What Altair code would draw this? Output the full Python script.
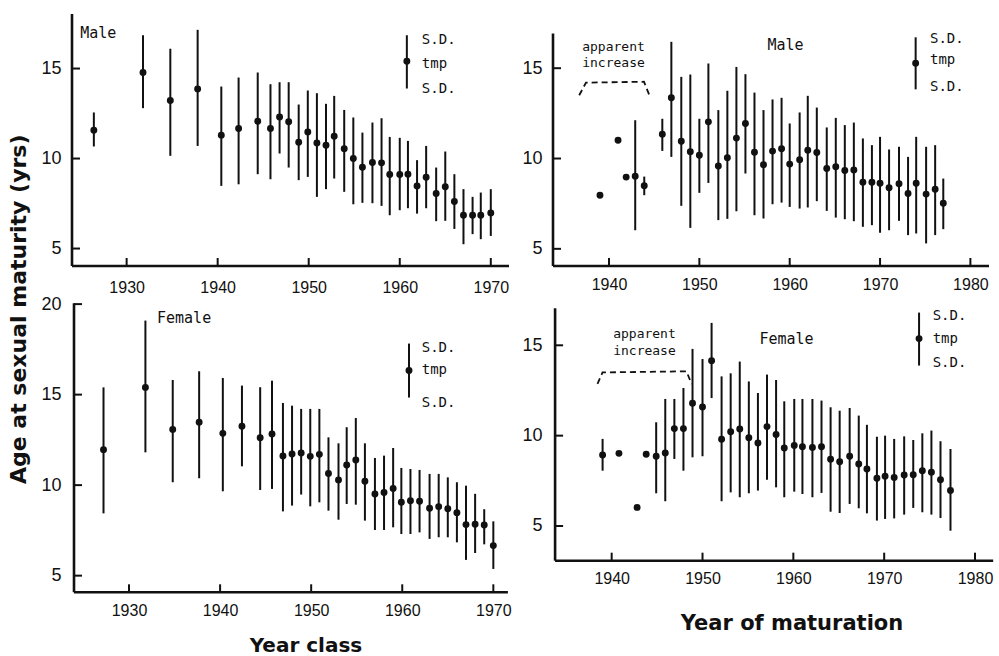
import altair as alt
import pandas as pd

# ---- Male, by year class ----
mc_year = [1926.4, 1931.8, 1934.8, 1937.8, 1940.4, 1942.3, 1944.4, 1945.8, 1946.8, 1947.8,
           1948.9, 1949.9, 1950.9, 1951.9, 1952.8, 1953.9, 1954.9, 1955.9, 1957.0, 1958.0,
           1958.9, 1960.0, 1960.9, 1961.9, 1962.9, 1964.0, 1965.0, 1966.0, 1967.0, 1968.0,
           1968.9, 1970.0]
mc_tmp = [11.57, 14.78, 13.22, 13.87, 11.3, 11.67, 12.07, 11.67, 12.31, 12.04,
          10.91, 11.48, 10.87, 10.74, 11.24, 10.54, 10.0, 9.52, 9.78, 9.76,
          9.11, 9.11, 9.13, 8.48, 8.96, 8.06, 8.43, 7.61, 6.85, 6.85,
          6.85, 6.98]
mc_hi = [12.56, 16.85, 16.1, 17.15, 14.0, 14.5, 14.78, 14.13, 14.24, 14.24,
         13.0, 13.78, 13.63, 13.04, 13.48, 12.7, 12.28, 11.44, 12.0, 12.24,
         11.2, 11.15, 10.98, 9.91, 10.7, 9.5, 10.39, 9.13, 8.3, 7.87,
         8.11, 8.3]
mc_lo = [10.67, 12.8, 10.15, 10.7, 8.48, 8.57, 9.13, 8.85, 10.28, 9.5,
         8.8, 8.98, 7.87, 8.3, 8.89, 8.15, 7.46, 7.54, 7.52, 7.37,
         6.85, 7.13, 7.24, 6.94, 7.24, 6.52, 6.54, 6.09, 5.24, 5.8,
         5.52, 5.7]

# ---- Male, by year of maturation ----
mm_year = [1939.0, 1941.0, 1941.9, 1942.9, 1943.9, 1945.9, 1946.9, 1948.0, 1949.0, 1950.0,
           1951.0, 1952.1, 1953.1, 1954.1, 1955.1, 1956.1, 1957.1, 1958.1, 1959.1, 1960.0,
           1961.1, 1962.0, 1963.0, 1964.1, 1965.1, 1966.1, 1967.1, 1968.1, 1969.1, 1970.0,
           1971.0, 1972.1, 1973.1, 1974.0, 1975.1, 1976.1, 1977.0]
mm_tmp = [7.97, 11.01, 8.97, 9.02, 8.49, 11.35, 13.36, 10.96, 10.37, 10.18,
          12.03, 9.59, 10.04, 11.13, 11.94, 10.35, 9.65, 10.41, 10.54, 9.69,
          9.93, 10.46, 10.33, 9.45, 9.54, 9.34, 9.37, 8.69, 8.69, 8.63,
          8.38, 8.6, 8.06, 8.63, 8.03, 8.3, 7.53]
mm_hi = [None, None, None, 12.12, 9.0, 12.2, 16.46, 14.52, 14.65, 12.2,
         15.26, 12.68, 13.75, 15.07, 14.67, 13.65, 12.68, 13.27, 13.36, 11.94,
         12.55, 13.47, 12.82, 11.72, 12.25, 11.85, 11.99, 11.11, 10.74, 11.2,
         10.5, 10.65, 10.09, 11.2, 10.65, 10.74, 8.89]
mm_lo = [None, None, None, 6.03, 7.97, 10.42, 10.09, 7.38, 6.16, 8.1,
         8.65, 6.59, 6.66, 7.08, 9.17, 6.86, 6.68, 7.47, 7.56, 7.32,
         7.23, 7.29, 7.64, 7.1, 6.73, 6.64, 6.53, 6.22, 6.31, 5.89,
         6.03, 6.55, 5.76, 5.85, 5.3, 5.76, 6.09]

# ---- Female, by year class ----
fc_year = [1927.2, 1931.8, 1934.8, 1937.7, 1940.3, 1942.4, 1944.4, 1945.7, 1946.9, 1947.9,
           1948.9, 1949.9, 1950.9, 1951.9, 1953.0, 1953.9, 1954.9, 1955.9, 1957.0, 1958.0,
           1959.0, 1959.9, 1960.9, 1961.9, 1963.0, 1964.0, 1965.0, 1966.0, 1967.0, 1968.0,
           1969.0, 1970.0]
fc_tmp = [11.96, 15.4, 13.08, 13.47, 12.86, 13.25, 12.62, 12.83, 11.61, 11.72,
          11.78, 11.59, 11.7, 10.64, 10.29, 11.11, 11.39, 10.21, 9.51, 9.59,
          9.82, 9.05, 9.14, 9.11, 8.72, 8.81, 8.7, 8.48, 7.82, 7.84,
          7.8, 6.66]
fc_hi = [15.4, 19.09, 15.81, 16.29, 15.92, 15.5, 15.41, 15.77, 14.54, 14.39,
         14.21, 14.21, 14.21, 12.64, 12.31, 13.2, 13.71, 12.31, 11.5, 11.63,
         12.05, 10.95, 10.89, 10.84, 10.62, 10.62, 10.43, 10.16, 9.97, 9.52,
         8.67, 8.0]
fc_lo = [8.44, 11.81, 10.16, 10.38, 9.66, 11.04, 9.73, 9.79, 8.55, 8.87,
         9.48, 8.83, 9.05, 8.59, 8.09, 8.96, 8.92, 8.04, 7.52, 7.52,
         7.67, 7.3, 7.3, 7.39, 7.03, 7.12, 7.12, 6.84, 5.87, 6.25,
         6.73, 5.37]

# ---- Female, by year of maturation ----
fm_year = [1939.0, 1940.8, 1942.8, 1943.8, 1944.9, 1945.9, 1946.9, 1947.9, 1948.9, 1950.0,
           1951.0, 1952.1, 1953.1, 1954.1, 1955.1, 1956.1, 1957.1, 1958.1, 1959.0, 1960.1,
           1961.0, 1962.1, 1963.1, 1964.1, 1965.1, 1966.2, 1967.2, 1968.1, 1969.2, 1970.1,
           1971.1, 1972.2, 1973.2, 1974.2, 1975.2, 1976.2, 1977.3]
fm_tmp = [8.93, 9.02, 6.03, 8.97, 8.86, 9.04, 10.39, 10.39, 11.79, 11.59,
          14.15, 9.8, 10.22, 10.37, 9.89, 9.59, 10.5, 10.06, 9.32, 9.46,
          9.39, 9.35, 9.39, 8.69, 8.56, 8.86, 8.43, 8.15, 7.64, 7.75,
          7.69, 7.82, 7.84, 8.06, 7.97, 7.56, 6.96]
fm_hi = [9.82, None, None, None, 10.74, 12.03, 12.03, 12.64, 14.8, 14.24,
         16.24, 13.28, 13.45, 14.1, 13.0, 12.36, 13.38, 13.08, 11.9, 12.03,
         12.03, 12.03, 11.94, 11.57, 11.38, 11.53, 11.11, 10.6, 9.94, 10.0,
         9.82, 9.96, 9.76, 10.13, 10.28, 9.69, 9.26]
fm_lo = [8.06, None, None, None, 6.81, 6.37, 8.71, 8.06, 8.8, 8.86,
         12.08, 6.37, 6.86, 6.59, 6.81, 6.96, 7.56, 7.14, 6.59, 6.9,
         6.77, 6.59, 6.83, 5.79, 5.72, 6.22, 5.98, 5.7, 5.3, 5.39,
         5.42, 5.63, 6.0, 5.76, 5.63, 5.44, 4.74]

# tick values
ticks_class = [1930, 1940, 1950, 1960, 1970]
ticks_matur = [1940, 1950, 1960, 1970, 1980]
ticks_age = [5, 10, 15]
ticks_age_f = [5, 10, 15, 20]

# "apparent increase" brackets (year, age)
br_m_x = [1936.7, 1937.45, 1943.87, 1944.54]
br_m_y = [13.5, 14.2, 14.25, 13.41]
br_f_x = [1938.44, 1938.99, 1948.24, 1948.79]
br_f_y = [12.86, 13.5, 13.56, 12.86]

INK = "#111111"
TICK_FONT = "Liberation Sans"
MONO = "DejaVu Sans Mono"
BOLD = "DejaVu Sans"
TICK_PX = 8


def panel(year, tmp, lo, hi, xdom, ydom, width, height, xticks, yticks,
          x0, y0, x_end, y_end, label, label_xy, label_align, key,
          bracket=None, note_xy=None, x_offset=0, x_pad=10, titles=()):
    xs = alt.Scale(domain=xdom, nice=False, zero=False)
    ys = alt.Scale(domain=ydom, nice=False, zero=False)
    xaxis = alt.Axis(values=xticks, format="d", domain=False, ticks=False, grid=False,
                     labelFont=TICK_FONT, labelFontSize=16, labelColor=INK,
                     labelPadding=x_pad, labelFlush=False, offset=x_offset, title=None)
    yaxis = alt.Axis(values=yticks, format="d", domain=False, ticks=False, grid=False,
                     labelFont=TICK_FONT, labelFontSize=18, labelColor=INK,
                     labelPadding=11, labelFlush=False, title=None)

    def X(f):
        return alt.X(f, type="quantitative", scale=xs, axis=xaxis)

    def Y(f):
        return alt.Y(f, type="quantitative", scale=ys, axis=yaxis)

    df = pd.DataFrame({"year": year, "tmp": tmp, "lo": lo, "hi": hi})
    bars = alt.Chart(df.dropna()).mark_rule(color=INK, strokeWidth=2).encode(
        x=X("year"), y=Y("lo"), y2="hi")
    dots = alt.Chart(df).mark_circle(size=48, color=INK, opacity=1).encode(
        x=X("year"), y=Y("tmp"))

    # axis lines and inward tick marks
    tx = TICK_PX * (xdom[1] - xdom[0]) / width
    ty = TICK_PX * (ydom[1] - ydom[0]) / height
    rows = [(x0, x0, y0, y_end, 2.6), (x0, x_end, y0, y0, 2.6)]
    rows += [(t, t, y0, y0 + ty, 2) for t in xticks]
    rows += [(x0, x0 + tx, t, t, 2) for t in yticks]
    ax = pd.DataFrame(rows, columns=["x", "x2", "y", "y2", "w"])
    frame = alt.Chart(ax).mark_rule(color=INK).encode(
        x=X("x"), x2="x2", y=Y("y"), y2="y2",
        strokeWidth=alt.StrokeWidth("w:Q", scale=None, legend=None))

    layers = [frame, bars, dots]

    # sex label
    lab = alt.Chart(pd.DataFrame({"x": [label_xy[0]], "y": [label_xy[1]], "t": [label]})).mark_text(
        font=MONO, fontSize=15, color=INK, align=label_align, baseline="middle").encode(
        x=X("x"), y=Y("y"), text="t:N")
    layers.append(lab)

    # key: S.D. / tmp / S.D.
    kx, k_lo, k_hi, k_dot, ktx, kys = key
    key_line = alt.Chart(pd.DataFrame({"x": [kx], "y": [k_lo], "y2": [k_hi]})).mark_rule(
        color=INK, strokeWidth=2).encode(x=X("x"), y=Y("y"), y2="y2")
    key_dot = alt.Chart(pd.DataFrame({"x": [kx], "y": [k_dot]})).mark_circle(
        size=48, color=INK, opacity=1).encode(x=X("x"), y=Y("y"))
    key_txt = alt.Chart(pd.DataFrame({"x": [ktx] * 3, "y": kys, "t": ["S.D.", "tmp", "S.D."]})).mark_text(
        font=MONO, fontSize=14, color=INK, align="left", baseline="middle").encode(
        x=X("x"), y=Y("y"), text="t:N")
    layers += [key_line, key_dot, key_txt]

    if bracket is not None:
        bx, by = bracket
        bdf = pd.DataFrame({"x": bx, "y": by, "o": list(range(len(bx)))})
        layers.append(alt.Chart(bdf).mark_line(color=INK, strokeWidth=1.8, strokeDash=[6, 4]).encode(
            x=X("x"), y=Y("y"), order="o:Q"))
        nx, ny1, ny2 = note_xy
        ndf = pd.DataFrame({"x": [nx, nx], "y": [ny1, ny2], "t": ["apparent", "increase"]})
        layers.append(alt.Chart(ndf).mark_text(
            font=MONO, fontSize=13, color=INK, align="center", baseline="middle").encode(
            x=X("x"), y=Y("y"), text="t:N"))

    for text, px, py, ang, size in titles:
        tdf = pd.DataFrame({"t": [text]})
        layers.append(alt.Chart(tdf).mark_text(
            font=BOLD, fontWeight="bold", fontSize=size, color=INK, angle=ang,
            align="center", baseline="middle").encode(
            x=alt.value(px), y=alt.value(py), text="t:N"))

    return alt.layer(*layers).properties(width=width, height=height)


male_class = panel(
    mc_year, mc_tmp, mc_lo, mc_hi, [1924, 1972], [4.03, 18.03], 437, 252,
    ticks_class, ticks_age, 1924, 4.03, 1972, 18.03,
    "Male", (1924.9, 16.96), "left",
    (1960.78, 13.89, 16.85, 15.4, 1962.43, [16.57, 15.27, 13.89]),
    x_pad=13,
    titles=[("Age at sexual maturity (yrs)", -53, 295.3, 270, 22)])

male_matur = panel(
    mm_year, mm_tmp, mm_lo, mm_hi, [1933.8, 1982.06], [4.05, 18.0], 436, 252,
    ticks_matur, ticks_age, 1933.8, 4.05, 1982.06, 16.92,
    "Male", (1959.53, 16.27), "center",
    (1973.94, 13.83, 16.71, 15.27, 1975.53, [16.6, 15.44, 13.94]),
    bracket=(br_m_x, br_m_y), note_xy=(1940.5, 16.16, 15.27))

female_class = panel(
    fc_year, fc_tmp, fc_lo, fc_hi, [1923.74, 1971.72], [4.08, 20.1], 437, 290,
    ticks_class, ticks_age_f, 1923.96, 4.08, 1971.6, 20.05,
    "Female", (1933.07, 19.26), "left",
    (1960.74, 14.84, 17.82, 16.33, 1962.14, [17.6, 16.38, 14.56]),
    titles=[("Year class", 234, 343.5, 0, 20)])

female_matur = panel(
    fm_year, fm_tmp, fm_lo, fm_hi, [1933.54, 1981.54], [1.33, 17.38], 436, 290,
    ticks_matur, ticks_age, 1933.77, 3.08, 1982.0, 17.05,
    "Female", (1959.25, 15.37), "center",
    (1973.84, 13.88, 16.81, 15.37, 1975.34, [16.64, 15.37, 14.04]),
    bracket=(br_f_x, br_f_y), note_xy=(1943.61, 15.65, 14.71),
    x_offset=-31.7,
    titles=[("Year of maturation", 239, 321.7, 0, 21)])

chart = alt.concat(
    male_class, male_matur, female_class, female_matur,
    columns=2, bounds="flush",
    spacing=alt.RowColnumber(row=36.3, column=44),
).properties(
    padding={"left": 7, "top": 12, "right": 0, "bottom": 0},
    background="white",
).configure_view(stroke="transparent")

chart.save("out.html", embed_options={"renderer": "svg", "actions": False})
